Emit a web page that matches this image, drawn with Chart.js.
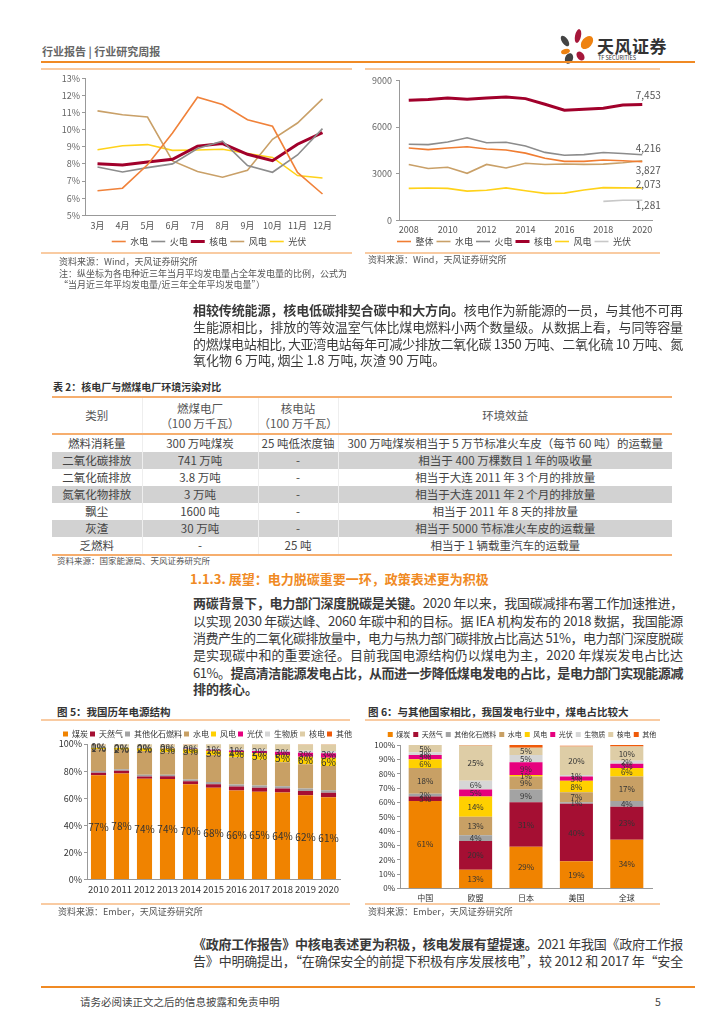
<!DOCTYPE html>
<html><head><meta charset="utf-8">
<script src="https://cdn.jsdelivr.net/npm/chart.js@4.4.1/dist/chart.umd.min.js"></script>
<style>
body{margin:0;width:724px;height:1024px;background:#fff;position:relative;overflow:hidden;font-family:"Noto Sans CJK SC","Noto Sans",sans-serif;color:#333;}
.abs{position:absolute;}
.t{position:absolute;white-space:nowrap;}
.pl{position:absolute;height:2px;background:#F9CBA2;}
.p{position:absolute;left:193px;width:490px;font-size:13px;height:17px;line-height:17px;white-space:nowrap;color:#3a3a3a;}
.src{position:absolute;font-size:9px;color:#555;white-space:nowrap;line-height:11px;}
.ttl{position:absolute;font-size:10.5px;font-weight:bold;color:#333;white-space:nowrap;}
#tbl{position:absolute;left:52px;top:396px;width:620px;border-collapse:collapse;table-layout:fixed;font-size:11.5px;color:#444;}
#tbl td{text-align:center;padding:0;height:17px;line-height:17px;white-space:nowrap;border-left:1px solid #eee;}
#tbl td:first-child{border-left:none;}
#tbl tr.hd td{height:35px;line-height:15px;color:#555;border-top:2px solid #F6AE6E;border-bottom:2px solid #F6AE6E;}
#tbl tr.g td{background:#D2D2D2;}
#tbl tr.lastrow td{border-bottom:2px solid #F6AE6E;}
.petal{position:absolute;border-radius:50%;}
.chart{position:absolute;}
</style></head>
<body>
<!-- header -->
<div class="t" style="left:42px;top:43px;font-size:11px;font-weight:bold;color:#666;">行业报告 | 行业研究周报</div>
<div class="petal" style="left:575px;top:29px;width:6px;height:14px;background:#A6173A;transform:rotate(12deg);"></div>
<div class="petal" style="left:582px;top:35px;width:10px;height:15px;background:#EE8211;transform:rotate(40deg);"></div>
<div class="petal" style="left:562px;top:35px;width:6px;height:12px;background:#444;transform:rotate(-35deg);"></div>
<div class="petal" style="left:561px;top:49px;width:9px;height:5px;background:#EE8211;transform:rotate(-15deg);"></div>
<div class="petal" style="left:565px;top:53px;width:8px;height:11px;background:#444;transform:rotate(20deg);"></div>
<div class="petal" style="left:577px;top:51px;width:7px;height:10px;background:#A6173A;transform:rotate(-35deg);"></div>
<div class="t" style="left:597px;top:33px;font-size:17px;font-weight:bold;color:#333;letter-spacing:0.5px;">天风证券</div>
<div class="t" style="left:598px;top:54px;font-size:5.5px;color:#333;">TF SECURITIES</div>
<div class="abs" style="left:41px;top:61px;width:654px;height:2px;background:#F08A24;"></div>

<!-- top charts frames -->
<div class="pl" style="left:41px;top:68px;width:311px;"></div>
<div class="pl" style="left:365px;top:68px;width:295px;"></div>
<div class="chart" style="left:41px;top:71px;width:311px;height:187px;"><canvas id="c1" width="311" height="187"></canvas></div>
<div class="chart" style="left:360px;top:71px;width:320px;height:190px;"><canvas id="c2" width="320" height="190"></canvas></div>
<div class="pl" style="left:41px;top:252px;width:311px;"></div>
<div class="pl" style="left:365px;top:252px;width:295px;"></div>
<div class="src" style="left:59px;top:256px;">资料来源：Wind，天风证券研究所</div>
<div class="src" style="left:59px;top:268px;">注：纵坐标为各电种近三年当月平均发电量占全年发电量的比例，公式为</div>
<div class="src" style="left:59px;top:279px;">“当月近三年平均发电量/近三年全年平均发电量”）</div>
<div class="src" style="left:368px;top:254px;">资料来源：Wind，天风证券研究所</div>

<!-- paragraph 1 -->
<div class="p j" style="top:301px;"><span><b>相较传统能源，核电低碳排契合碳中和大方向。</b>核电作为新能源的一员，与其他不可再</span></div>
<div class="p j" style="top:318px;"><span>生能源相比，排放的等效温室气体比煤电燃料小两个数量级。从数据上看，与同等容量</span></div>
<div class="p j" style="top:335px;"><span>的燃煤电站相比, 大亚湾电站每年可减少排放二氧化碳 1350 万吨、二氧化硫 10 万吨、氮</span></div>
<div class="p" style="top:351px;"><span>氧化物 6 万吨, 烟尘 1.8 万吨, 灰渣 90 万吨。</span></div>

<!-- table -->
<div class="ttl" style="left:53px;top:379px;font-size:10px;">表 2：核电厂与燃煤电厂环境污染对比</div>
<table id="tbl">
<colgroup><col style="width:90px"><col style="width:116px"><col style="width:80px"><col></colgroup>
<tr class="hd"><td>类别</td><td>燃煤电厂<br>（100 万千瓦）</td><td>核电站<br>（100 万千瓦）</td><td>环境效益</td></tr>
<tr><td>燃料消耗量</td><td>300 万吨煤炭</td><td>25 吨低浓度铀</td><td>300 万吨煤炭相当于 5 万节标准火车皮（每节 60 吨）的运载量</td></tr>
<tr class="g"><td>二氧化碳排放</td><td>741 万吨</td><td>-</td><td>相当于 400 万棵数目 1 年的吸收量</td></tr>
<tr><td>二氧化硫排放</td><td>3.8 万吨</td><td>-</td><td>相当于大连 2011 年 3 个月的排放量</td></tr>
<tr class="g"><td>氮氧化物排放</td><td>3 万吨</td><td>-</td><td>相当于大连 2011 年 2 个月的排放量</td></tr>
<tr><td>飘尘</td><td>1600 吨</td><td>-</td><td>相当于 2011 年 8 天的排放量</td></tr>
<tr class="g"><td>灰渣</td><td>30 万吨</td><td>-</td><td>相当于 5000 节标准火车皮的运载量</td></tr>
<tr class="lastrow"><td>乏燃料</td><td>-</td><td>25 吨</td><td>相当于 1 辆载重汽车的运载量</td></tr>
</table>
<div class="src" style="left:57px;top:555px;font-size:8.5px;">资料来源：国家能源局、天风证券研究所</div>

<!-- section -->
<div class="t" style="left:190px;top:569px;font-size:13px;color:#F08A24;font-weight:bold;">1.1.3. 展望：电力脱碳重要一环，政策表述更为积极</div>
<div class="p j" style="top:594px;"><span><b>两碳背景下，电力部门深度脱碳是关键。</b>2020 年以来，我国碳减排布署工作加速推进，</span></div>
<div class="p j" style="top:611.5px;"><span>以实现 2030 年碳达峰、2060 年碳中和的目标。据 IEA 机构发布的 2018 数据，我国能源</span></div>
<div class="p j" style="top:629px;"><span>消费产生的二氧化碳排放量中，电力与热力部门碳排放占比高达 51%，电力部门深度脱碳</span></div>
<div class="p j" style="top:646px;"><span>是实现碳中和的重要途径。目前我国电源结构仍以煤电为主，2020 年煤炭发电占比达</span></div>
<div class="p j" style="top:663.5px;"><span>61%。<b>提高清洁能源发电占比，从而进一步降低煤电发电的占比，是电力部门实现能源减</b></span></div>
<div class="p" style="top:680px;"><span><b>排的核心。</b></span></div>

<!-- bottom charts -->
<div class="ttl" style="left:57px;top:704px;">图 5：我国历年电源结构</div>
<div class="ttl" style="left:368px;top:704px;">图 6：与其他国家相比，我国发电行业中，煤电占比较大</div>
<div class="pl" style="left:41px;top:719px;width:309px;"></div>
<div class="pl" style="left:365px;top:719px;width:295px;"></div>
<div class="chart" style="left:41px;top:722px;width:311px;height:181px;"><canvas id="c3" width="311" height="181"></canvas></div>
<div class="chart" style="left:360px;top:722px;width:310px;height:186px;"><canvas id="c4" width="310" height="186"></canvas></div>
<div class="pl" style="left:41px;top:903px;width:309px;"></div>
<div class="pl" style="left:365px;top:903px;width:295px;"></div>
<div class="src" style="left:58px;top:906px;">资料来源：Ember，天风证券研究所</div>
<div class="src" style="left:368px;top:906px;">资料来源：Ember，天风证券研究所</div>

<!-- bottom paragraph -->
<div class="p j" style="top:935px;"><span><b>《政府工作报告》中核电表述更为积极，核电发展有望提速。</b>2021 年我国《政府工作报</span></div>
<div class="p j" style="top:952px;"><span>告》中明确提出，“在确保安全的前提下积极有序发展核电”，较 2012 和 2017 年“安全</span></div>

<!-- footer -->
<div class="abs" style="left:41px;top:986px;width:654px;height:2px;background:#F08A24;"></div>
<div class="t" style="left:80px;top:994px;font-size:10.5px;color:#444;">请务必阅读正文之后的信息披露和免责申明</div>
<div class="t" style="left:655px;top:994px;font-size:10.5px;color:#444;">5</div>

<script>
// justify text lines to the column width
document.querySelectorAll('.p').forEach(el => {
  const sp = el.querySelector('span');
  const w = sp.getBoundingClientRect().width;
  const n = sp.textContent.length;
  if (el.classList.contains('j') || w > 490) {
    sp.style.letterSpacing = ((490 - w) / n) + 'px';
  }
});

// ---------- data ----------
const months = ['3月','4月','5月','6月','7月','8月','9月','10月','11月','12月'];
const hydroShare   = [6.43, 6.58, 7.95, 9.81, 11.9, 11.47, 10.58, 10.2, 7.5, 6.24];
const thermalShare = [7.82, 7.53, 7.78, 8.0, 8.9, 9.33, 7.9, 7.51, 8.52, 10.06];
const nuclearShare = [8.01, 7.94, 8.11, 8.27, 9.04, 9.19, 8.56, 8.19, 9.15, 9.83];
const windShare    = [11.1, 10.87, 10.74, 8.17, 7.55, 7.22, 7.63, 9.44, 10.39, 11.8];
const solarShare   = [8.83, 9.06, 9.13, 8.79, 8.81, 8.86, 8.61, 8.38, 7.32, 7.18];

const years = ['2008','2009','2010','2011','2012','2013','2014','2015','2016','2017','2018','2019','2020'];
const hoursAll     = [4648, 4546, 4650, 4730, 4579, 4521, 4318, 3988, 3785, 3790, 3880, 3825, 3758];
const hoursHydro   = [3589, 3328, 3404, 3019, 3591, 3359, 3669, 3590, 3619, 3597, 3613, 3697, 3827];
const hoursThermal = [4885, 4865, 5031, 5305, 4982, 5021, 4778, 4364, 4186, 4219, 4361, 4293, 4216];
const hoursNuclear = [7716, 7763, 7870, 7785, 7870, 7934, 7827, 7464, 7081, 7145, 7208, 7422, 7453];
const hoursWind    = [2046, 2077, 2047, 1875, 1929, 2080, 1900, 1728, 1742, 1948, 2095, 2082, 2073];
const hoursSolar   = [null, null, null, null, null, null, null, null, null, null, 1212, 1285, 1281];

const mixYears = ['2010','2011','2012','2013','2014','2015','2016','2017','2018','2019','2020'];
const cnCoal    = [77.0, 78.2, 74.3, 74.2, 70.3, 67.8, 65.7, 64.7, 64.2, 62.2, 60.8];
const cnGas     = [1.8, 2.0, 1.8, 2.0, 2.2, 2.6, 2.9, 3.1, 3.0, 3.2, 3.3];
const cnFossil  = [1.2, 1.2, 1.3, 1.2, 1.4, 1.5, 1.5, 1.6, 1.6, 1.7, 1.8];
const cnHydro   = [16.2, 14.3, 17.5, 16.6, 19.4, 20.0, 20.1, 19.0, 17.8, 18.0, 17.8];
const cnWind    = [1.1, 1.5, 2.0, 2.6, 2.8, 3.2, 3.9, 4.7, 5.2, 5.5, 6.1];
const cnSolar   = [0.02, 0.06, 0.1, 0.2, 0.4, 0.7, 1.1, 1.8, 2.5, 3.0, 3.4];
const cnBio     = [0.6, 0.7, 0.8, 0.8, 0.9, 1.0, 1.1, 1.2, 1.3, 1.5, 1.7];
const cnNuclear = [1.8, 1.8, 2.0, 2.1, 2.3, 3.0, 3.5, 3.7, 4.2, 4.6, 4.8];
const cnOther   = [0.1, 0.1, 0.1, 0.1, 0.1, 0.1, 0.1, 0.1, 0.1, 0.1, 0.1];

const regions = ['中国','欧盟','日本','美国','全球'];
const rgCoal    = [61, 13, 29, 19, 34];
const rgGas     = [3, 20, 31, 40, 23];
const rgFossil  = [2, 4, 9, 1, 4];
const rgHydro   = [18, 13, 9, 7, 17];
const rgWind    = [6, 14, 1, 8, 6];
const rgSolar   = [3, 5, 9, 3, 3];
const rgBio     = [2, 6, 5, 1, 2];
const rgNuclear = [5, 24.7, 5, 20, 10];
const rgOther   = [0, 0.3, 2.8, 0.5, 1];

const mixNames = ['煤炭','天然气','其他化石燃料','水电','风电','光伏','生物质','核电','其他'];

// ---------- styles ----------
const FONT = '"Noto Sans CJK SC","Noto Sans",sans-serif';
Chart.defaults.font.family = FONT;
Chart.defaults.color = '#555';
Chart.defaults.animation = false;
const mixColors = ['#F08300','#A50F33','#A3A3A3','#C8A065','#FFD000','#E6007E','#D6D6D6','#DECDA6','#EF5A0A'];

// moves the legend box after layout (to match the reference's legend placement)
const legendShift = {
  id: 'legendShift',
  afterLayout(chart, args, opts) {
    const l = chart.legend;
    if (!l || !opts) return;
    const dx = opts.dx || 0, dy = opts.dy || 0;
    l.left += dx; l.right += dx; l.top += dy; l.bottom += dy;
  }
};

const endLabelPlugin = {
  id: 'endLabels',
  afterDatasetsDraw(chart, args, opts) {
    if (!opts || !opts.items) return;
    const ctx = chart.ctx;
    ctx.save();
    ctx.font = opts.font;
    ctx.fillStyle = opts.color;
    ctx.textAlign = 'center';
    ctx.textBaseline = 'middle';
    opts.items.forEach(it => {
      const ds = chart.data.datasets[it.ds];
      const meta = chart.getDatasetMeta(it.ds);
      const n = ds.data.length - 1;
      const pt = meta.data[n];
      ctx.fillText(ds.data[n].toLocaleString('en-US'), pt.x + it.dx, pt.y + it.dy);
    });
    ctx.restore();
  }
};

const barLabelPlugin = {
  id: 'barLabels',
  afterDatasetsDraw(chart, args, opts) {
    if (!opts || !opts.show) return;
    const ctx = chart.ctx;
    ctx.save();
    ctx.font = opts.font;
    ctx.fillStyle = opts.color;
    ctx.textAlign = 'center';
    ctx.textBaseline = 'middle';
    chart.data.datasets.forEach((ds, i) => {
      if (!opts.show.includes(i)) return;
      const meta = chart.getDatasetMeta(i);
      meta.data.forEach((el, j) => {
        const v = ds.data[j];
        if (v == null) return;
        ctx.fillText(Math.round(v) + '%', el.x, (el.y + el.base) / 2);
      });
    });
    ctx.restore();
  }
};

function lineDs(label, data, color, width) {
  return { label, data, borderColor: color, backgroundColor: color, borderWidth: width,
           pointRadius: 0, tension: 0, fill: false, spanGaps: false };
}
const lineLegend = { position: 'bottom', labels: { usePointStyle: true, pointStyle: 'line', pointStyleWidth: 14, boxHeight: 6, padding: 3, font: { size: 9 }, color: '#444' } };

// ---------- chart 1 ----------
new Chart(document.getElementById('c1'), {
  type: 'line',
  data: { labels: months, datasets: [
    lineDs('水电', hydroShare, '#F0823A', 1.6),
    lineDs('火电', thermalShare, '#8C8C8C', 1.6),
    lineDs('核电', nuclearShare, '#A1002B', 3),
    lineDs('风电', windShare, '#C9A068', 1.6),
    lineDs('光伏', solarShare, '#FFD21A', 1.6)
  ]},
  plugins: [legendShift],
  options: {
    responsive: false,
    layout: { padding: { top: 1, right: 17, bottom: 0, left: 0 } },
    plugins: { legend: lineLegend, tooltip: { enabled: false }, legendShift: { dx: 21, dy: -2 } },
    scales: {
      x: { offset: true, grid: { display: false, drawTicks: false }, border: { display: true, color: '#999' },
           ticks: { font: { size: 9 }, color: '#555', padding: 5, maxRotation: 0 } },
      y: { min: 5, max: 13, grid: { display: true, drawOnChartArea: false, tickLength: 3, color: '#999' },
           border: { display: true, color: '#999' },
           ticks: { stepSize: 1, font: { size: 9 }, color: '#666', padding: 2, callback: v => v + '%' },
           afterFit: s => { s.width = 44; } }
    }
  }
});

// ---------- chart 2 ----------
new Chart(document.getElementById('c2'), {
  type: 'line',
  data: { labels: years, datasets: [
    lineDs('整体', hoursAll, '#F07D32', 1.6),
    lineDs('水电', hoursHydro, '#C9A068', 1.6),
    lineDs('火电', hoursThermal, '#8C8C8C', 1.6),
    lineDs('核电', hoursNuclear, '#A1002B', 3),
    lineDs('风电', hoursWind, '#FFD21A', 1.6),
    lineDs('光伏', hoursSolar, '#C8C8C8', 1.6)
  ]},
  plugins: [endLabelPlugin, legendShift],
  options: {
    responsive: false,
    layout: { padding: { top: 0, right: 28, bottom: 0, left: 0 } },
    plugins: {
      legend: lineLegend,
      tooltip: { enabled: false },
      legendShift: { dx: 8, dy: -5 },
      endLabels: { font: '10px ' + FONT, color: '#555', items: [
        { ds: 3, dx: 6, dy: -9 },
        { ds: 2, dx: 6, dy: -7 },
        { ds: 1, dx: 6, dy: 9 },
        { ds: 4, dx: 6, dy: -4 },
        { ds: 5, dx: 6, dy: 5 }
      ] }
    },
    scales: {
      x: { offset: true, grid: { display: false, drawTicks: false }, border: { display: true, color: '#999' },
           ticks: { autoSkip: false, font: { size: 9 }, color: '#555', padding: 4, maxRotation: 0,
                    callback: function(v, i) { return i % 2 === 0 ? this.getLabelForValue(v) : ''; } } },
      y: { min: 0, max: 9000, grid: { display: true, drawOnChartArea: false, tickLength: 3, color: '#999' },
           border: { display: true, color: '#999' },
           ticks: { stepSize: 3000, font: { size: 9 }, color: '#666', padding: 4, callback: v => String(v) },
           afterFit: s => { s.width = 39; } }
    }
  }
});

function mixDatasets(arrs) {
  return arrs.map((d, i) => ({ label: mixNames[i], data: d, backgroundColor: mixColors[i], borderWidth: 0,
                               barPercentage: 0.82, categoryPercentage: 0.8 }));
}

// ---------- chart 3 ----------
new Chart(document.getElementById('c3'), {
  type: 'bar',
  data: { labels: mixYears, datasets: mixDatasets([cnCoal, cnGas, cnFossil, cnHydro, cnWind, cnSolar, cnBio, cnNuclear, cnOther]) },
  plugins: [barLabelPlugin, legendShift],
  options: {
    responsive: false,
    layout: { padding: { top: 2, right: 12, bottom: 4, left: 0 } },
    plugins: {
      legend: { position: 'top', labels: { boxWidth: 5, boxHeight: 5, padding: 2, font: { size: 8 }, color: '#333' } },
      tooltip: { enabled: false },
      legendShift: { dx: 17, dy: 4 },
      barLabels: { show: [0, 4, 5], font: '10px ' + FONT, color: '#333' }
    },
    scales: {
      x: { stacked: true, grid: { display: false, drawTicks: false }, border: { display: true, color: '#999' },
           ticks: { autoSkip: false, font: { size: 9.5 }, color: '#333', padding: 4, maxRotation: 0 } },
      y: { stacked: true, min: 0, max: 100, grid: { display: true, drawOnChartArea: false, tickLength: 3, color: '#999' },
           border: { display: true, color: '#999' },
           ticks: { stepSize: 10, font: { size: 9 }, color: '#333', padding: 2, callback: v => v + '%' },
           afterFit: s => { s.width = 46; } }
    }
  }
});

// ---------- chart 4 ----------
new Chart(document.getElementById('c4'), {
  type: 'bar',
  data: { labels: regions, datasets: mixDatasets([rgCoal, rgGas, rgFossil, rgHydro, rgWind, rgSolar, rgBio, rgNuclear, rgOther]) },
  plugins: [barLabelPlugin, legendShift],
  options: {
    responsive: false,
    layout: { padding: { top: 3, right: 18, bottom: 0, left: 0 } },
    plugins: {
      legend: { position: 'top', labels: { boxWidth: 5, boxHeight: 5, padding: 3, font: { size: 7 }, color: '#333' } },
      tooltip: { enabled: false },
      legendShift: { dx: 16, dy: 3 },
      barLabels: { show: [0, 1, 2, 3, 4, 5, 6, 7], font: '8px ' + FONT, color: '#333' }
    },
    scales: {
      x: { stacked: true, grid: { display: false, drawTicks: false }, border: { display: true, color: '#999' },
           ticks: { font: { size: 8 }, color: '#333', padding: 5, maxRotation: 0 } },
      y: { stacked: true, min: 0, max: 100, grid: { display: true, drawOnChartArea: false, tickLength: 3, color: '#999' },
           border: { display: true, color: '#999' },
           ticks: { stepSize: 10, font: { size: 8 }, color: '#333', padding: 2, callback: v => v + '%' },
           afterFit: s => { s.width = 40; } }
    }
  }
});
</script>
</body></html>
